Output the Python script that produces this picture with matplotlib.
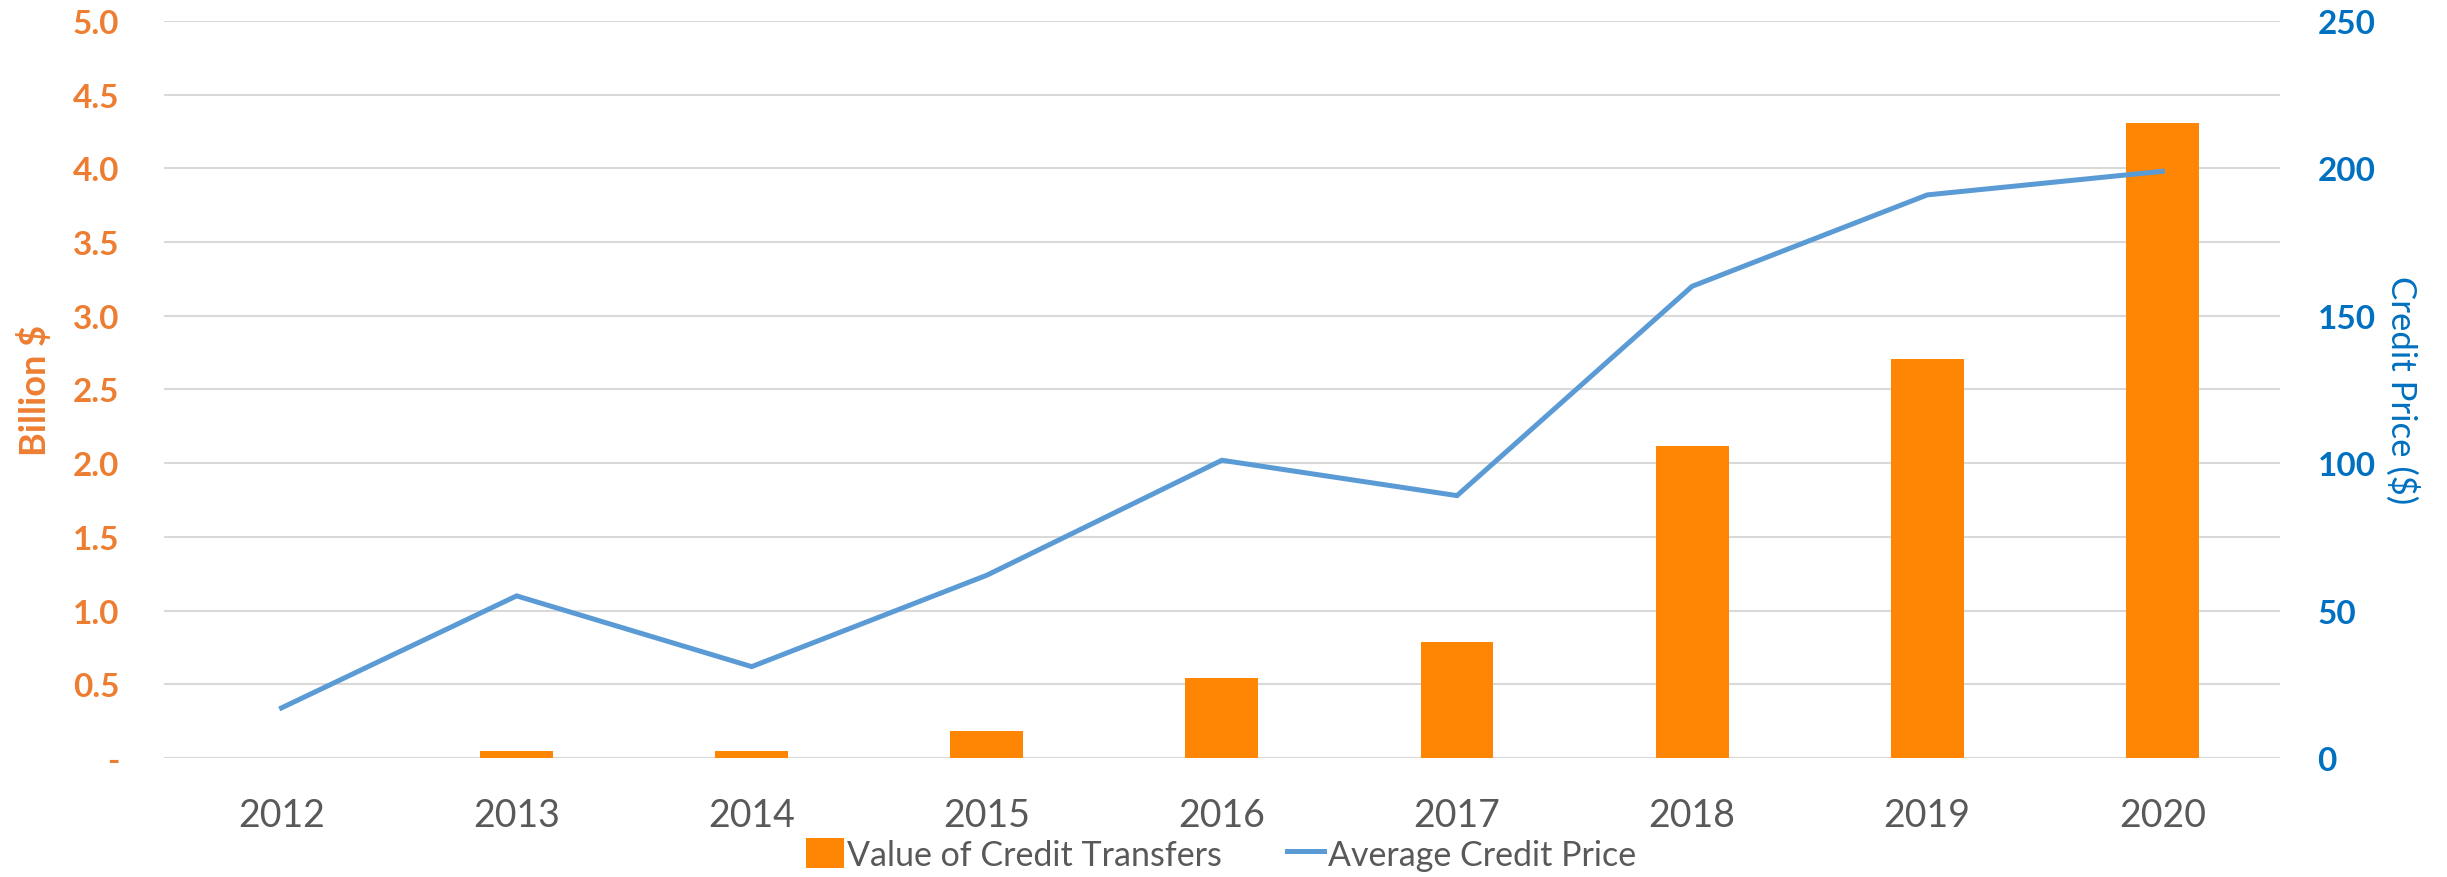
import matplotlib
matplotlib.use("Agg")
import matplotlib.pyplot as plt
import numpy as np

# ───────── Data ─────────
years = ['2012', '2013', '2014', '2015', '2016', '2017', '2018', '2019', '2020']
transfer_value = [0.0, 0.05, 0.05, 0.18, 0.54, 0.79, 2.12, 2.71, 4.31]   # billion $
avg_price = [17, 55, 31, 62, 101, 89, 160, 191, 199]                      # $

left_ticks = [0, 0.5, 1.0, 1.5, 2.0, 2.5, 3.0, 3.5, 4.0, 4.5, 5.0]
left_labels = ['-', '0.5', '1.0', '1.5', '2.0', '2.5', '3.0', '3.5', '4.0', '4.5', '5.0']
right_ticks = [0, 50, 100, 150, 200, 250]

BAR_C = '#FF8505'
LINE_C = '#5B9BD5'
LEFT_C = '#ED7D31'
RIGHT_C = '#0070C0'
GRID_C = '#D9D9D9'
TXT_C = '#595959'

fig = plt.figure(figsize=(24.47, 8.78), dpi=100)
ax = fig.add_axes([0.067, 0.1355, 0.8647, 0.8395])
ax2 = ax.twinx()

x = np.arange(len(years))
ax.bar(x, transfer_value, width=0.31, color=BAR_C, zorder=3, label='Value of Credit Transfers')
ax2.plot(x, avg_price, color=LINE_C, lw=3.6, solid_joinstyle='miter', label='Average Credit Price')

# ───────── Axes styling ─────────
ax.set_xlim(-0.5, len(years) - 0.5)
ax.set_ylim(0, 5.0)
ax2.set_ylim(0, 250)
ax.set_yticks(left_ticks)
ax.set_yticklabels(left_labels)
ax2.set_yticks(right_ticks)
ax.set_xticks(x)
ax.set_xticklabels(years, fontfamily='Lato', fontsize=27, color=TXT_C)

ax.grid(axis='y', color=GRID_C, lw=1.5, zorder=0)
ax.set_axisbelow(True)
for a in (ax, ax2):
    for s in a.spines.values():
        s.set_visible(False)
ax.axhline(0, color=GRID_C, lw=1.5, zorder=1)

ax.tick_params(axis='x', length=0, pad=28)
ax.tick_params(axis='y', length=0, pad=32, labelcolor=LEFT_C)
ax2.tick_params(axis='y', length=0, pad=27, labelcolor=RIGHT_C)
for lab in ax.get_yticklabels() + ax2.get_yticklabels():
    lab.set_fontfamily('Lato')
    lab.set_fontweight('bold')
    lab.set_fontsize(24)

ax.set_ylabel('Billion $', fontfamily='Lato', fontweight='bold', fontsize=26, color=LEFT_C,
              va='center', ha='center')
ax.yaxis.set_label_coords(-0.061, 0.5)
ax2.set_ylabel('Credit Price ($)', fontfamily='Lato', fontsize=25, color=RIGHT_C, rotation=270,
               va='center', ha='center')
ax2.yaxis.set_label_coords(1.058, 0.5)

# ───────── Legend ─────────
h1, l1 = ax.get_legend_handles_labels()
h2, l2 = ax2.get_legend_handles_labels()
fig.legend(h1 + h2, l1 + l2, loc='center', bbox_to_anchor=(0.499, 0.026), ncol=2,
           frameon=False, prop={'family': 'Lato', 'size': 24.5}, labelcolor=TXT_C,
           handlelength=1.1, handleheight=1.0, handletextpad=0.1, columnspacing=1.9)

fig.savefig('out.png', dpi=100)
